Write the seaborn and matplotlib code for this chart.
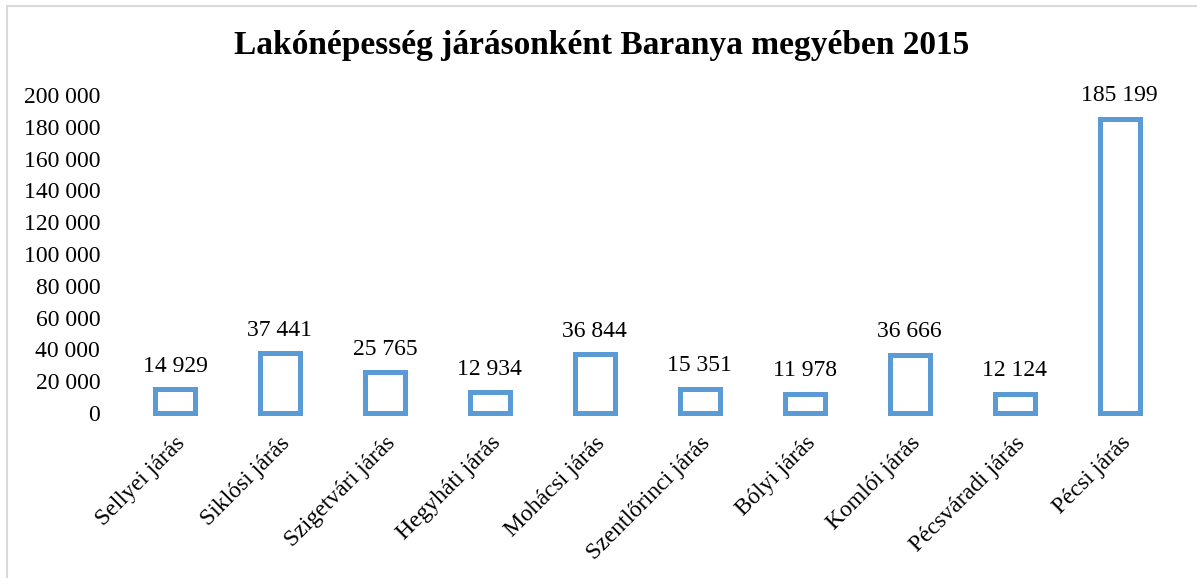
#Lakonepesseg jarasonkent - Baranya 2015
import seaborn as sns
import matplotlib.pyplot as plt
from matplotlib.patches import Rectangle
from matplotlib.ticker import FuncFormatter

districts = ['Sellyei járás', 'Siklósi járás', 'Szigetvári járás', 'Hegyháti járás',
             'Mohácsi járás', 'Szentlőrinci járás', 'Bólyi járás', 'Komlói járás',
             'Pécsváradi járás', 'Pécsi járás']
population = [14929, 37441, 25765, 12934, 36844, 15351, 11978, 36666, 12124, 185199]
yticks = list(range(0, 200001, 20000))

sns.set_style("white")
plt.rcParams['font.family'] = ['Liberation Serif', 'DejaVu Serif']
plt.rcParams['text.color'] = 'black'
plt.rcParams['xtick.color'] = 'black'
plt.rcParams['ytick.color'] = 'black'

def spaced(v, pos=None):
    return f"{int(v):,}".replace(",", " ")

fig = plt.figure(figsize=(11.97, 5.78), dpi=100)
ax = fig.add_axes([0.1023, 0.2855, 0.877, 0.550])

blue = '#5B9BD5'
sns.barplot(x=districts, y=population, color=blue, fill=False, linewidth=3.6,
            width=0.38, ax=ax)
for p in ax.patches:
    p.set_edgecolor(blue)
    p.set_facecolor('white')
    p.set_clip_on(False)

for i, v in enumerate(population):
    ax.annotate(spaced(v), (i, v), xytext=(0, 9), textcoords='offset points',
                ha='center', va='bottom', fontsize=17)

ax.set_ylim(0, 200000)
ax.set_xlim(-0.5, len(districts) - 0.5)
ax.set_yticks(yticks)
ax.yaxis.set_major_formatter(FuncFormatter(spaced))
ax.tick_params(axis='y', labelsize=17, length=0, pad=16)
ax.tick_params(axis='x', labelsize=17, length=0, pad=14)
plt.setp(ax.get_xticklabels(), rotation=45, ha='right', rotation_mode='anchor')
sns.despine(ax=ax, left=True, bottom=True, top=True, right=True)
ax.set_xlabel('')
ax.set_ylabel('')

fig.text(0.503, 0.922, 'Lakónépesség járásonként Baranya megyében 2015',
         ha='center', va='center', fontsize=24, fontweight='bold')

fig.patches.append(Rectangle((7 / 1197, -0.1), 1.2, 1 - 6 / 578 + 0.1,
                             transform=fig.transFigure, fill=False,
                             edgecolor='#D9D9D9', linewidth=1.5))

fig.savefig('out.png', dpi=100)
